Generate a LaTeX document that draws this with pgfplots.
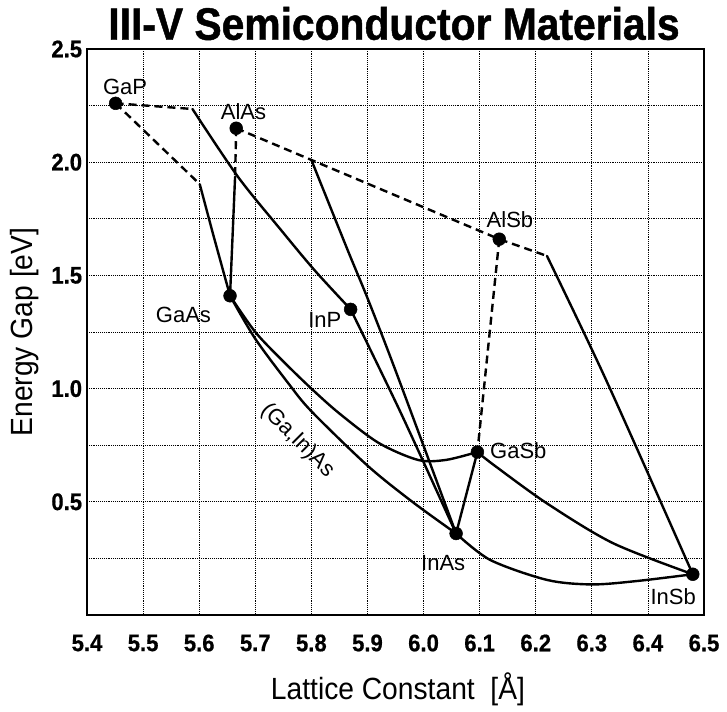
\documentclass[border=0pt]{standalone}
\usepackage{fontspec}
\setmainfont{Liberation Sans}
\newfontfamily\cf[FakeStretch=0.92]{Liberation Sans}
\newfontfamily\heavy[FakeStretch=0.9, FakeBold=1.0]{Liberation Sans Bold}
\newfontfamily\heavyt[FakeStretch=0.92, FakeBold=0.6]{Liberation Sans Bold}
\usepackage{pgfplots}
\pgfplotsset{compat=1.18}
\tikzset{
  sl/.style={black, line width=1.8pt, line join=round, line cap=round},
  dl/.style={black, line width=1.8pt, dash pattern=on 6pt off 3.75pt},
  lab/.style={font=\fontsize{16.5}{18}\selectfont, inner sep=0pt}
}
\begin{document}
\begin{tikzpicture}[x=1pt,y=1pt]
\useasboundingbox (0,0) rectangle (545.25,533.25);
\begin{axis}[
  at={(65.25pt,72pt)}, anchor=south west,
  scale only axis, width=462.75pt, height=424.5pt,
  xmin=5.4, xmax=6.5, ymin=0, ymax=2.5,
  clip=false,
  xtick={5.4,5.5,5.6,5.7,5.8,5.9,6.0,6.1,6.2,6.3,6.4,6.5},
  ytick={0.5,1.0,1.5,2.0,2.5},
  minor ytick={0.25,0.75,1.25,1.75,2.25},
  grid=both,
  major grid style={black, densely dotted, line width=0.6pt},
  minor grid style={black, densely dotted, line width=0.6pt},
  major tick length=0pt, minor tick length=0pt,
  axis line style={line width=1.4pt},
  /pgf/number format/fixed,
  /pgf/number format/fixed zerofill,
  /pgf/number format/precision=1,
  /pgf/number format/assume math mode=true,
  xticklabel style={font=\heavyt\fontsize{18}{20}\selectfont, anchor=center, inner sep=0pt, yshift=-21pt},
  yticklabel style={font=\heavyt\fontsize{18}{20}\selectfont, anchor=east, inner sep=0pt, xshift=-3.5pt},
  xlabel={Lattice Constant\ \ [Å]},
  ylabel={Energy Gap [eV]},
  xlabel style={font=\cf\fontsize{23}{26}\selectfont, at={(axis description cs:0.504,-0.150)}, anchor=base, inner sep=0pt},
  ylabel style={font=\cf\fontsize{23}{26}\selectfont, at={(axis description cs:-0.089,0.5)}, anchor=base, rotate=0, inner sep=0pt},
]
% dashed (indirect gap) segments
\addplot[dl] coordinates {(5.451,2.26) (5.588,2.235)};
\addplot[dl] coordinates {(5.451,2.26) (5.601,1.903)};
\addplot[dl] coordinates {(5.666,2.15) (5.664,1.936)};
\addplot[dl] coordinates {(5.666,2.15) (5.80,2.01) (6.135,1.66) (6.22,1.586)};
\addplot[dl] coordinates {(6.135,1.66) (6.096,0.72)};
% solid (direct gap) segments
\addplot[sl, smooth] coordinates {(5.588,2.235) (5.669,1.936) (5.746,1.70) (5.806,1.522) (5.87,1.35)};
\addplot[sl] coordinates {(5.601,1.903) (5.625,1.68) (5.655,1.41)};
\addplot[sl] coordinates {(5.664,1.936) (5.655,1.41)};
\addplot[sl, smooth] coordinates {(5.80,2.01) (5.865,1.61) (5.90,1.40) (5.95,1.08) (6.058,0.36)};
\addplot[sl, smooth] coordinates {(5.87,1.35) (5.96,0.89) (6.058,0.36)};
\addplot[sl, smooth] coordinates {(5.655,1.41) (5.70,1.22) (5.76,1.02) (5.80,0.90) (5.90,0.66) (5.98,0.50) (6.058,0.36)};
\addplot[sl, smooth] coordinates {(5.655,1.41) (5.70,1.25) (5.75,1.12) (5.80,1.00) (5.85,0.89) (5.92,0.76) (5.99,0.685) (6.04,0.685) (6.096,0.72)};
\addplot[sl] coordinates {(6.096,0.72) (6.058,0.36)};
\addplot[sl, smooth] coordinates {(6.096,0.72) (6.125,0.663) (6.22,0.493) (6.338,0.317) (6.48,0.18)};
\addplot[sl, smooth] coordinates {(6.058,0.36) (6.119,0.243) (6.22,0.155) (6.30,0.135) (6.38,0.150) (6.48,0.18)};
\addplot[sl, smooth] coordinates {(6.22,1.586) (6.326,1.035) (6.48,0.18)};
% binary compounds
\addplot[only marks, mark=*, mark size=4.8pt, black] coordinates {(5.451,2.26) (5.666,2.15) (6.135,1.66) (5.655,1.41) (5.87,1.35) (6.096,0.72) (6.058,0.36) (6.48,0.18)};
\node[lab] at (axis cs:5.468,2.333) {GaP};
\node[lab] at (axis cs:5.679,2.223) {AlAs};
\node[lab] at (axis cs:6.154,1.748) {AlSb};
\node[lab] at (axis cs:5.572,1.325) {GaAs};
\node[lab] at (axis cs:5.824,1.303) {InP};
\node[lab] at (axis cs:6.169,0.726) {GaSb};
\node[lab] at (axis cs:6.035,0.231) {InAs};
\node[lab] at (axis cs:6.445,0.081) {InSb};
\node[lab, rotate=-45] at (axis cs:5.775,0.77) {(Ga,In)As};
\end{axis}
\node[font=\heavy\fontsize{34}{38}\selectfont, inner sep=0pt] at (295.5,515.6) {III-V Semiconductor Materials};
\end{tikzpicture}
\end{document}
